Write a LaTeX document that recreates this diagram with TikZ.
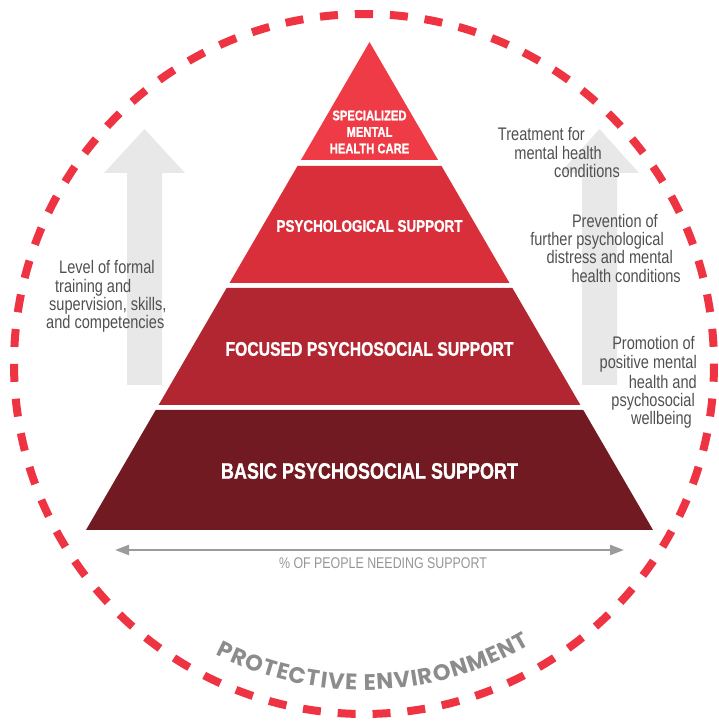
\documentclass[tikz,border=0pt]{standalone}
\usepackage{fontspec}
\setmainfont{Liberation Sans}
\newfontfamily\condf[FakeStretch=0.8, BoldFeatures={FakeBold=1}]{Liberation Sans}
\newfontfamily\envfont{Poppins}
\usetikzlibrary{arrows.meta,decorations.text}
\definecolor{bandA}{RGB}{239,59,69}
\definecolor{bandB}{RGB}{217,47,58}
\definecolor{bandC}{RGB}{177,38,48}
\definecolor{bandD}{RGB}{113,26,33}
\definecolor{redc}{RGB}{238,52,66}
\definecolor{arrowgray}{RGB}{232,232,232}
\definecolor{sidegray}{RGB}{80,80,80}
\definecolor{linegray}{RGB}{155,155,155}
\definecolor{labelgray}{RGB}{150,150,150}
\definecolor{envgray}{RGB}{140,140,140}
\newcommand\envfmt{\envfont\bfseries\fontsize{22.5}{22.5}\selectfont}
\tikzset{
  bandlabel/.style={text=white, font=\condf\bfseries\fontsize{#1}{#1}\selectfont, inner sep=0pt},
  sidetext/.style={text=sidegray, font=\condf\fontsize{18.2}{18.5}\selectfont, inner sep=0pt},
  bigarrow/.style={fill=arrowgray},
  dottedring/.style={draw=redc, line width=8pt, dash pattern=on 18pt off 16.906pt},
}
\begin{document}
\begin{tikzpicture}[x=1pt,y=1pt]
\useasboundingbox (0,0) rectangle (718,723);
\coordinate (C) at (364,359);
% protective ring
\draw[dottedring] (C) ++(91.47:350) arc[start angle=91.47, delta angle=-360, radius=350];
% big gray arrows
\fill[bigarrow] (127,338) -- (127,550) -- (104,550) -- (144.5,594) -- (185,550) -- (162,550) -- (162,338) -- cycle;
\fill[bigarrow] (582,338) -- (582,550) -- (560,550) -- (599.5,594) -- (639,550) -- (617,550) -- (617,338) -- cycle;
% pyramid bands
\fill[bandA] (369.5,681) -- (438.05,563) -- (300.95,563) -- cycle;
\fill[bandB] (297.47,557) -- (441.53,557) -- (509.51,440) -- (229.49,440) -- cycle;
\fill[bandC] (226.59,435) -- (512.41,435) -- (580.38,318) -- (158.62,318) -- cycle;
\fill[bandD] (155.71,313) -- (583.29,313) -- (653,193) -- (86,193) -- cycle;
% band labels
\node[text=white, font=\condf\bfseries\fontsize{14}{16.5}\selectfont, inner sep=0pt, align=center] (spec) at (369.5,591) {SPECIALIZED\\MENTAL\\HEALTH CARE};
\node[bandlabel=16.8] (psy) at (369.5,497) {PSYCHOLOGICAL SUPPORT};
\node[bandlabel=19.7] (foc) at (369.5,374) {FOCUSED PSYCHOSOCIAL SUPPORT};
\node[bandlabel=22.5] (bas) at (369.5,252) {BASIC PSYCHOSOCIAL SUPPORT};
% left text
\node[sidetext, anchor=base west] (l1) at (59,449) {Level of formal};
\node[sidetext, anchor=base west] (l2) at (55,430.5) {training and};
\node[sidetext, anchor=base west] (l3) at (49,412) {supervision, skills,};
\node[sidetext, anchor=base west] (l4) at (46,394) {and competencies};
% right texts
\node[sidetext, anchor=base east] (t1) at (585,582.3) {Treatment for};
\node[sidetext, anchor=base east] (t2) at (602,563.7) {mental health};
\node[sidetext, anchor=base east] (t3) at (620,545.7) {conditions};
\node[sidetext, anchor=base east] (p1) at (658,495.7) {Prevention of};
\node[sidetext, anchor=base east] (p2) at (664,477.3) {further psychological};
\node[sidetext, anchor=base east] (p3) at (673,459) {distress and mental};
\node[sidetext, anchor=base east] (p4) at (681,440.7) {health conditions};
\node[sidetext, anchor=base east] (m1) at (695,373) {Promotion of};
\node[sidetext, anchor=base east] (m2) at (697,354) {positive mental};
\node[sidetext, anchor=base east] (m3) at (697,334.7) {health and};
\node[sidetext, anchor=base east] (m4) at (695,316.3) {psychosocial};
\node[sidetext, anchor=base east] (m5) at (692,298) {wellbeing};
% bottom double arrow
\coordinate (aL) at (115,173);
\coordinate (aR) at (624,173);
\draw[linegray, line width=2.2pt, {Triangle[length=14pt,width=10pt]}-{Triangle[length=14pt,width=10pt]}] (aL) -- (aR);
\node[text=labelgray, font=\condf\fontsize{15.5}{15.5}\selectfont, inner sep=0pt] (pct) at (383,160) {\% OF PEOPLE NEEDING SUPPORT};
% curved label
\path[decorate, decoration={text along path, text={|\envfmt|PROTECTIVE ENVIRONMENT}, text align={fit to path}, text color=envgray}]
  (C) ++(243:326) arc[start angle=243, end angle=300.6, radius=326];
\end{tikzpicture}
\end{document}
